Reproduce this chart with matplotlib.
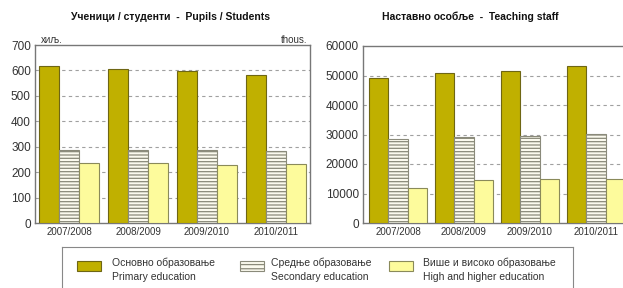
"""Pupils/students and teaching staff by education level, 2007/2008 - 2010/2011."""

import numpy as np
import matplotlib.pyplot as plt

plt.rcParams['font.family'] = ['Liberation Sans', 'DejaVu Sans']
plt.rcParams['hatch.color'] = '#9a9a88'
plt.rcParams['hatch.linewidth'] = 0.9

years = ['2007/2008', '2008/2009', '2009/2010', '2010/2011']

# pupils / students, thousands
pupils_primary = [618, 607, 597, 583]
pupils_secondary = [287, 286, 286, 283]
pupils_higher = [237, 235, 228, 231]

# teaching staff
staff_primary = [49300, 50800, 51400, 53100]
staff_secondary = [28400, 29100, 29500, 30100]
staff_higher = [11800, 14600, 14900, 14900]

legend_sr = ['Основно образовање', 'Средње образовање', 'Више и високо образовање']
legend_en = ['Primary education', 'Secondary education', 'High and higher education']

C_PRIM = '#c0b000'
C_SEC = '#fbfaee'
C_HIGH = '#fdfb9c'
EDGE = '#6e6614'
TXT = '#333333'


def draw_group(ax, prim, sec, high, ymax, step):
    x = np.arange(len(years))
    w = 0.29
    ax.bar(x - w, prim, w, color=C_PRIM, edgecolor=EDGE, linewidth=0.8, zorder=3)
    ax.bar(x, sec, w, color=C_SEC, edgecolor='#8a8a7a', linewidth=0.8,
           hatch='-----', zorder=3)
    ax.bar(x + w, high, w, color=C_HIGH, edgecolor='#8a8a5a', linewidth=0.8, zorder=3)
    ax.set_ylim(0, ymax)
    ax.set_yticks(np.arange(0, ymax + 1, step))
    for y in np.arange(step, ymax, step):
        ax.axhline(y, color='#a0a0a0', linestyle=(0, (3, 3)), linewidth=0.8, zorder=1)
    ax.set_xticks(x)
    ax.set_xticklabels(years, fontsize=7, color=TXT)
    ax.tick_params(axis='y', labelsize=8.5, colors=TXT, length=0, pad=3)
    ax.tick_params(axis='x', length=0, pad=3)
    for s in ax.spines.values():
        s.set_color('#777777')
        s.set_linewidth(1.0)


fig = plt.figure(figsize=(6.23, 2.88), dpi=100)

ax1 = fig.add_axes([35 / 623, 1 - 223 / 288, 275 / 623, 178 / 288])
draw_group(ax1, pupils_primary, pupils_secondary, pupils_higher, 700, 100)
ax1.set_xlim(-0.5, 3.5)
ax1.text(0.02, 1.0, 'хиљ.', transform=ax1.transAxes, fontsize=7, color=TXT,
         ha='left', va='bottom')
ax1.text(0.99, 1.0, 'thous.', transform=ax1.transAxes, fontsize=7, color=TXT,
         ha='right', va='bottom')
fig.text(170 / 623, 1 - 17 / 288, 'Ученици / студенти  -  Pupils / Students',
         fontsize=7.5, fontweight='bold', ha='center', va='center', color='#111111')

ax2 = fig.add_axes([363 / 623, 1 - 223 / 288, 266 / 623, 177 / 288])
draw_group(ax2, staff_primary, staff_secondary, staff_higher, 60000, 10000)
ax2.set_xlim(-0.53, 3.5)
fig.text(470 / 623, 1 - 17 / 288, 'Наставно особље  -  Teaching staff',
         fontsize=7.5, fontweight='bold', ha='center', va='center', color='#111111')

# legend box
lax = fig.add_axes([62 / 623, -2 / 288, 511 / 623, 43 / 288])
lax.set_xlim(0, 511)
lax.set_ylim(-2, 41)
lax.set_xticks([])
lax.set_yticks([])
for s in lax.spines.values():
    s.set_color('#888888')
    s.set_linewidth(0.8)
swatch_x = [15, 178, 327]
text_x = [50, 209, 361]
styles = [dict(color=C_PRIM, edgecolor=EDGE),
          dict(color=C_SEC, edgecolor='#8a8a7a', hatch='----'),
          dict(color=C_HIGH, edgecolor='#8a8a5a')]
for sx, tx, st, sr, en in zip(swatch_x, text_x, styles, legend_sr, legend_en):
    lax.bar(sx + 12, 10, 24, bottom=17, linewidth=0.8, **st)
    lax.text(tx, 25, sr, fontsize=7.5, color=TXT, va='center')
    lax.text(tx, 11, en, fontsize=7.5, color=TXT, va='center')

fig.savefig('out.png', dpi=100)
